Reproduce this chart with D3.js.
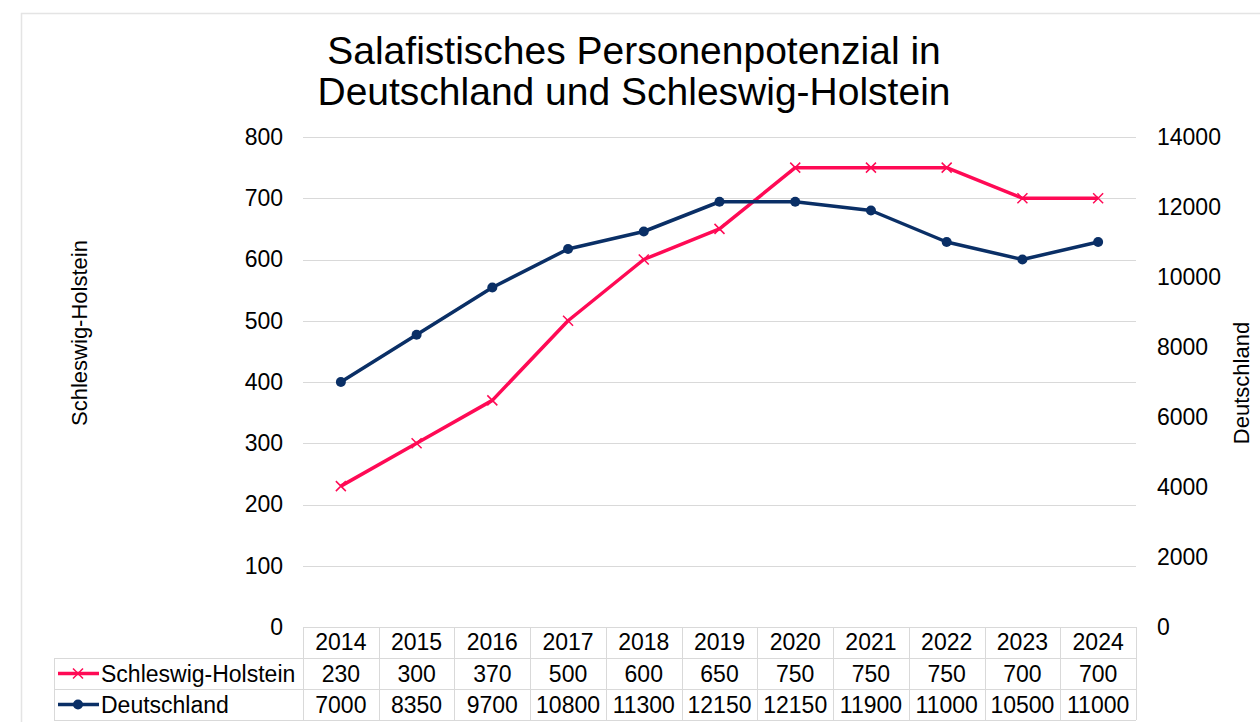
<!DOCTYPE html>
<html>
<head>
<meta charset="utf-8">
<script src="https://cdn.jsdelivr.net/npm/d3@7"></script>
<style>
  body { margin: 0; background: #fff; }
  svg { display: block; font-family: "Liberation Sans", Arial, sans-serif; }
</style>
</head>
<body>
<svg id="chart"></svg>
<script>
// data
const years = ["2014", "2015", "2016", "2017", "2018", "2019", "2020", "2021", "2022", "2023", "2024"]
const shValues = [230, 300, 370, 500, 600, 650, 750, 750, 750, 700, 700]
const deValues = [7000, 8350, 9700, 10800, 11300, 12150, 12150, 11900, 11000, 10500, 11000]
const leftTicks = [0, 100, 200, 300, 400, 500, 600, 700, 800]
const rightTicks = [0, 2000, 4000, 6000, 8000, 10000, 12000, 14000]
const titleLines = ["Salafistisches Personenpotenzial in", "Deutschland und Schleswig-Holstein"]

const width = 1260
const height = 722
const pink = "#ff0a55"
const navy = "#0a2f66"
const grid = "#d9d9d9"
const fs = 23

const svg = d3.select("#chart").attr("width", width).attr("height", height)

// outer frame
svg.append("rect")
  .attr("x", 21.5).attr("y", 13.5)
  .attr("width", width).attr("height", height)
  .attr("fill", "none").attr("stroke", "#e4e4e4").attr("stroke-width", 1.5)

const plot = { left: 303, right: 1136, top: 137, bottom: 627 }

const x = d3.scaleBand().domain(years).range([plot.left, plot.right])
const cx = d => x(d) + x.bandwidth() / 2

const yL = d3.scaleLinear().domain([0, 800]).range([plot.bottom, plot.top])
const yR = d3.scaleLinear().domain([0, 14000]).range([plot.bottom, plot.top])

// title
svg.append("g").selectAll("text")
  .data(titleLines)
  .join("text")
  .attr("x", 634)
  .attr("y", (d, i) => 64 + i * 41)
  .attr("text-anchor", "middle")
  .attr("font-size", 39)
  .attr("fill", "#000")
  .text(d => d)

// gridlines
svg.append("g").selectAll("line")
  .data(leftTicks.filter(d => d > 0))
  .join("line")
  .attr("x1", plot.left).attr("x2", plot.right)
  .attr("y1", d => Math.round(yL(d)) + 0.5).attr("y2", d => Math.round(yL(d)) + 0.5)
  .attr("stroke", grid).attr("stroke-width", 1)

// left axis
const leftAxis = svg.append("g")
  .attr("transform", `translate(${plot.left - 20},0)`)
  .call(d3.axisLeft(yL).tickValues(leftTicks).tickSize(0).tickPadding(0))
leftAxis.select(".domain").remove()
leftAxis.selectAll("text").attr("font-size", fs).attr("fill", "#000").attr("font-family", null)

// right axis
const rightAxis = svg.append("g")
  .attr("transform", `translate(${plot.right + 21},0)`)
  .call(d3.axisRight(yR).tickValues(rightTicks).tickSize(0).tickPadding(0).tickFormat(d3.format("d")))
rightAxis.select(".domain").remove()
rightAxis.selectAll("text").attr("font-size", fs).attr("fill", "#000").attr("font-family", null)

// axis titles
svg.append("text")
  .attr("transform", "translate(87,333) rotate(-90)")
  .attr("text-anchor", "middle")
  .attr("font-size", 22)
  .text("Schleswig-Holstein")

svg.append("text")
  .attr("transform", "translate(1249,383) rotate(-90)")
  .attr("text-anchor", "middle")
  .attr("font-size", 22)
  .text("Deutschland")

// lines
const shLine = d3.line().x((d, i) => cx(years[i])).y(d => yL(d))
const deLine = d3.line().x((d, i) => cx(years[i])).y(d => yR(d))

svg.append("path")
  .datum(shValues)
  .attr("fill", "none").attr("stroke", pink).attr("stroke-width", 3.5)
  .attr("stroke-linejoin", "round")
  .attr("d", shLine)

svg.append("path")
  .datum(deValues)
  .attr("fill", "none").attr("stroke", navy).attr("stroke-width", 3.5)
  .attr("stroke-linejoin", "round")
  .attr("d", deLine)

const xMark = "M-5,-5L5,5M-5,5L5,-5"

svg.append("g").selectAll("path")
  .data(shValues)
  .join("path")
  .attr("transform", (d, i) => `translate(${cx(years[i])},${yL(d)})`)
  .attr("d", xMark)
  .attr("stroke", pink).attr("stroke-width", 1.5).attr("fill", "none")

svg.append("g").selectAll("circle")
  .data(deValues)
  .join("circle")
  .attr("cx", (d, i) => cx(years[i]))
  .attr("cy", d => yR(d))
  .attr("r", 5)
  .attr("fill", navy)

// data table
const rowTop = [627, 658, 689]
const rowH = 31
const legendLeft = 54
const table = svg.append("g")

// horizontal borders
table.append("line")
  .attr("x1", plot.left).attr("x2", plot.right)
  .attr("y1", rowTop[0] + 0.5).attr("y2", rowTop[0] + 0.5)
  .attr("stroke", grid)
;[rowTop[1], rowTop[2], rowTop[2] + rowH].forEach(yy => {
  table.append("line")
    .attr("x1", legendLeft).attr("x2", plot.right)
    .attr("y1", yy + 0.5).attr("y2", yy + 0.5)
    .attr("stroke", grid)
})

// vertical borders
table.selectAll("line.col")
  .data(years.concat(["end"]))
  .join("line")
  .attr("class", "col")
  .attr("x1", (d, i) => Math.round(plot.left + i * x.bandwidth()) + 0.5)
  .attr("x2", (d, i) => Math.round(plot.left + i * x.bandwidth()) + 0.5)
  .attr("y1", rowTop[0]).attr("y2", rowTop[2] + rowH)
  .attr("stroke", grid)
table.append("line")
  .attr("x1", legendLeft + 0.5).attr("x2", legendLeft + 0.5)
  .attr("y1", rowTop[1]).attr("y2", rowTop[2] + rowH)
  .attr("stroke", grid)

// header years
table.selectAll("text.year")
  .data(years)
  .join("text")
  .attr("class", "year")
  .attr("x", d => cx(d))
  .attr("y", rowTop[0] + 23)
  .attr("text-anchor", "middle")
  .attr("font-size", fs)
  .text(d => d)

const rows = [
  { name: "Schleswig-Holstein", values: shValues, color: pink, marker: "x" },
  { name: "Deutschland", values: deValues, color: navy, marker: "o" }
]

rows.forEach((r, ri) => {
  const top = rowTop[ri + 1]
  const mid = top + rowH / 2
  table.append("line")
    .attr("x1", 58).attr("x2", 99)
    .attr("y1", mid).attr("y2", mid)
    .attr("stroke", r.color).attr("stroke-width", 3.5)
  if (r.marker === "x") {
    table.append("path")
      .attr("transform", `translate(78,${mid})`)
      .attr("d", xMark)
      .attr("stroke", r.color).attr("stroke-width", 1.5)
  } else {
    table.append("circle")
      .attr("cx", 78).attr("cy", mid).attr("r", 5)
      .attr("fill", r.color)
  }
  table.append("text")
    .attr("x", 101)
    .attr("y", top + 24)
    .attr("font-size", fs)
    .text(r.name)
  table.selectAll(null)
    .data(r.values)
    .join("text")
    .attr("x", (d, i) => cx(years[i]))
    .attr("y", top + 24)
    .attr("text-anchor", "middle")
    .attr("font-size", fs)
    .text(d => d)
})
</script>
</body>
</html>
